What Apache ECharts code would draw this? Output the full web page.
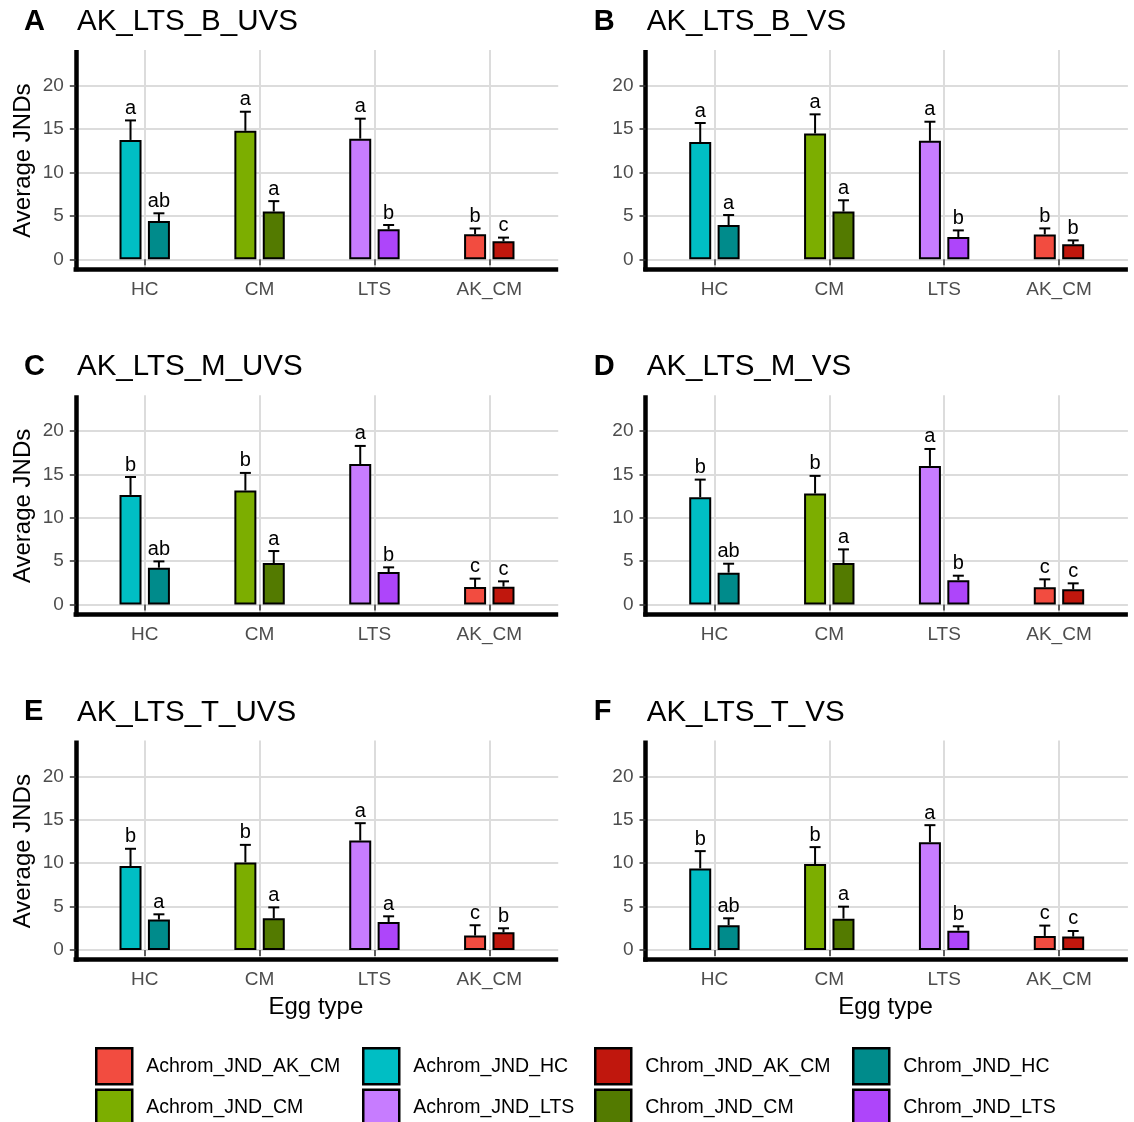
<!DOCTYPE html>
<html>
<head>
<meta charset="utf-8">
<script src="https://cdn.jsdelivr.net/npm/echarts@6/dist/echarts.min.js"></script>
<style>
html,body{margin:0;padding:0;background:#fff;}
#chart{width:1134px;height:1122px;}
</style>
</head>
<body>
<div id="chart"></div>
<script>
// ---------------- data ----------------
const categories = ['HC', 'CM', 'LTS', 'AK_CM'];
const panelTags = ['A', 'B', 'C', 'D', 'E', 'F'];
const panelTitles = ['AK_LTS_B_UVS', 'AK_LTS_B_VS', 'AK_LTS_M_UVS', 'AK_LTS_M_VS', 'AK_LTS_T_UVS', 'AK_LTS_T_VS'];
const yTicks = [0, 5, 10, 15, 20];

// mean values per panel (HC, CM, LTS, AK_CM)
const achromMean = [
  [13.75, 14.8, 13.9, 2.9],
  [13.5, 14.5, 13.65, 2.87],
  [12.64, 13.14, 16.2, 2.03],
  [12.37, 12.8, 15.98, 1.99],
  [9.66, 10.08, 12.6, 1.65],
  [9.39, 9.89, 12.41, 1.61]
];
const achromUpper = [
  [16.0, 17.0, 16.2, 3.55],
  [15.7, 16.7, 15.85, 3.56],
  [14.7, 15.17, 18.28, 2.99],
  [14.4, 14.83, 17.93, 2.91],
  [11.65, 12.1, 14.6, 2.84],
  [11.38, 11.84, 14.37, 2.8]
];
const chromMean = [
  [4.4, 5.5, 3.45, 2.07],
  [3.95, 5.5, 2.57, 1.72],
  [4.25, 4.79, 3.75, 2.07],
  [3.68, 4.79, 2.8, 1.76],
  [3.49, 3.64, 3.22, 2.03],
  [2.84, 3.6, 2.22, 1.53]
];
const chromUpper = [
  [5.3, 6.7, 3.95, 2.5],
  [5.1, 6.8, 3.33, 2.18],
  [4.98, 6.17, 4.29, 2.68],
  [4.71, 6.36, 3.33, 2.45],
  [4.1, 4.9, 3.87, 2.49],
  [3.64, 4.98, 2.72, 2.18]
];
const achromLetters = [
  ['a', 'a', 'a', 'b'],
  ['a', 'a', 'a', 'b'],
  ['b', 'b', 'a', 'c'],
  ['b', 'b', 'a', 'c'],
  ['b', 'b', 'a', 'c'],
  ['b', 'b', 'a', 'c']
];
const chromLetters = [
  ['ab', 'a', 'b', 'c'],
  ['a', 'a', 'b', 'b'],
  ['ab', 'a', 'b', 'c'],
  ['ab', 'a', 'b', 'c'],
  ['a', 'a', 'a', 'b'],
  ['ab', 'a', 'b', 'c']
];
const legendColumns = [
  ['Achrom_JND_AK_CM', 'Achrom_JND_CM'],
  ['Achrom_JND_HC', 'Achrom_JND_LTS'],
  ['Chrom_JND_AK_CM', 'Chrom_JND_CM'],
  ['Chrom_JND_HC', 'Chrom_JND_LTS']
];

// ---------------- style ----------------
const FONT = "'Liberation Sans', Arial, Helvetica, sans-serif";
const fillColors = {
  Achrom_JND_HC: '#00BEC4', Chrom_JND_HC: '#008B8B',
  Achrom_JND_CM: '#7CAE00', Chrom_JND_CM: '#537A00',
  Achrom_JND_LTS: '#C77CFF', Chrom_JND_LTS: '#AE45FA',
  Achrom_JND_AK_CM: '#F24C40', Chrom_JND_AK_CM: '#C0170D'
};
const DX = 569.7, DY = 345.3;
const AX_X = 75.8, AX_R = 558.2, TOP = 50, AX_Y = 269, Y0 = 259.3, Y20 = 85.7;
const K = (Y0 - Y20) / 20;
const yMin = -(AX_Y - Y0) / K, yMax = (Y0 - TOP) / K;
const CATSTEP = (AX_R - AX_X) / 4.2;
const CAT0 = AX_X + 0.6 * CATSTEP;
const BAR_W = 22, DODGE = 14.2;
const LINE_W = 4.5, HALF = LINE_W / 2;
const GRID_COL = '#dcdcdc';
const legendLeft = [95, 362, 594, 852];

const grid = [], xAxis = [], yAxis = [], series = [], title = [], legend = [];

for (let p = 0; p < 6; p++) {
  const col = p % 2, row = Math.floor(p / 2);
  const dx = col * DX, dy = row * DY;
  const gi = grid.length;
  // grid 1: y labels + horizontal gridlines
  grid.push({left: AX_X + dx, top: Y20 + dy, width: AX_R - AX_X, height: Y0 - Y20, outerBoundsMode: 'none'});
  // grid 2: bars and category axis
  grid.push({left: CAT0 + dx, top: TOP + dy, width: 3 * CATSTEP, height: AX_Y - TOP, outerBoundsMode: 'none'});
  // grid 3: frame axis lines
  grid.push({left: AX_X + dx, top: TOP + HALF + dy, width: AX_R - AX_X - HALF, height: AX_Y - TOP - HALF, outerBoundsMode: 'none'});

  xAxis.push({gridIndex: gi, type: 'value', min: 0, max: 1, show: false});
  yAxis.push({
    gridIndex: gi, type: 'value', min: yTicks[0], max: yTicks[yTicks.length - 1], interval: yTicks[1] - yTicks[0],
    axisLine: {show: false},
    axisTick: {show: true, length: 6, lineStyle: {color: '#333', width: 1.5}},
    axisLabel: {color: '#4d4d4d', fontSize: 19, margin: 12, fontFamily: FONT},
    splitLine: {show: true, lineStyle: {color: GRID_COL, width: 2}}
  });

  xAxis.push({
    gridIndex: gi + 1, type: 'category', data: categories, boundaryGap: false,
    axisLine: {show: false},
    axisTick: {show: true, length: 6, interval: 0, lineStyle: {color: '#333', width: 1.5}},
    axisLabel: {color: '#4d4d4d', fontSize: 19, margin: 11, interval: 0, fontFamily: FONT},
    splitLine: {show: true, interval: 0, lineStyle: {color: GRID_COL, width: 2}}
  });
  yAxis.push({gridIndex: gi + 1, type: 'value', min: yMin, max: yMax, show: false});

  xAxis.push({
    gridIndex: gi + 2, type: 'value', min: 0, max: 1,
    axisLine: {show: true, onZero: false, lineStyle: {color: '#000', width: LINE_W, cap: 'square'}},
    axisTick: {show: false}, axisLabel: {show: false}, splitLine: {show: false},
    name: row === 2 ? 'Egg type' : '', nameLocation: 'middle', nameGap: 36,
    nameTextStyle: {fontSize: 24, color: '#000', fontFamily: FONT}
  });
  yAxis.push({
    gridIndex: gi + 2, type: 'value', min: 0, max: 1,
    axisLine: {show: true, onZero: false, lineStyle: {color: '#000', width: LINE_W, cap: 'square'}},
    axisTick: {show: false}, axisLabel: {show: false}, splitLine: {show: false},
    name: col === 0 ? 'Average JNDs' : '', nameLocation: 'middle', nameGap: 40, nameRotate: 90,
    nameTextStyle: {fontSize: 24, color: '#000', fontFamily: FONT}
  });

  // bars: one series per fill group, stacked so that each type keeps one dodge slot
  [['Achrom', achromMean[p]], ['Chrom', chromMean[p]]].forEach(([type, vals]) => {
    categories.forEach((cat, ci) => {
      const name = type + '_JND_' + cat;
      series.push({
        type: 'bar', name: name, stack: type + p,
        xAxisIndex: gi + 1, yAxisIndex: gi + 1,
        data: categories.map((c, k) => (k === ci ? vals[k] : '-')),
        barWidth: BAR_W, barGap: ((2 * DODGE - BAR_W) / BAR_W * 100).toFixed(1) + '%',
        clip: false,
        itemStyle: {color: fillColors[name], borderColor: '#000', borderWidth: 2},
        emphasis: {disabled: true}
      });
    });
  });

  // error bars + letters
  const rows = [];
  categories.forEach((cat, ci) => {
    rows.push({v: [ci, 0, achromMean[p][ci], achromUpper[p][ci]], t: achromLetters[p][ci]});
    rows.push({v: [ci, 1, chromMean[p][ci], chromUpper[p][ci]], t: chromLetters[p][ci]});
  });
  series.push({
    type: 'custom', name: 'err' + p, xAxisIndex: gi + 1, yAxisIndex: gi + 1, clip: false, z: 5,
    encode: {x: 0, y: 3},
    data: rows.map(r => r.v),
    renderItem: function (params, api) {
      const ci = api.value(0), slot = api.value(1);
      const b = api.coord([ci, api.value(2)]);
      const t = api.coord([ci, api.value(3)]);
      const x = b[0] + (slot ? 1 : -1) * DODGE;
      return {
        type: 'group',
        children: [
          {type: 'line', shape: {x1: x, y1: b[1], x2: x, y2: t[1]}, style: {stroke: '#000', lineWidth: 2}},
          {type: 'line', shape: {x1: x - 5.5, y1: t[1], x2: x + 5.5, y2: t[1]}, style: {stroke: '#000', lineWidth: 2}},
          {type: 'text', x: x, y: t[1] - 2, style: {text: rows[params.dataIndex].t, align: 'center', verticalAlign: 'bottom', fontSize: 20, fontFamily: FONT, fill: '#000'}}
        ]
      };
    }
  });

  title.push({text: panelTags[p], left: 24 + dx, top: 7 + dy, padding: 0,
    textStyle: {fontSize: 29, fontWeight: 'bold', color: '#000', fontFamily: FONT}});
  title.push({text: panelTitles[p], left: 77 + dx, top: 7 + dy, padding: 0,
    textStyle: {fontSize: 29.5, fontWeight: 'normal', color: '#000', fontFamily: FONT}});
}

legendColumns.forEach((names, i) => {
  legend.push({
    orient: 'vertical', left: legendLeft[i], top: 1047, height: 90, padding: 0,
    itemWidth: 36, itemHeight: 36, itemGap: 3, icon: 'rect', selectedMode: false,
    data: names,
    itemStyle: {borderColor: '#000', borderWidth: 2.5},
    textStyle: {fontSize: 19.5, color: '#000', fontFamily: FONT, padding: [0, 0, 0, 9]}
  });
});

const chart = echarts.init(document.getElementById('chart'), null, {renderer: 'canvas'});
chart.setOption({
  backgroundColor: '#fff',
  animation: false,
  textStyle: {fontFamily: FONT},
  title, legend, grid, xAxis, yAxis, series
});
</script>
</body>
</html>
